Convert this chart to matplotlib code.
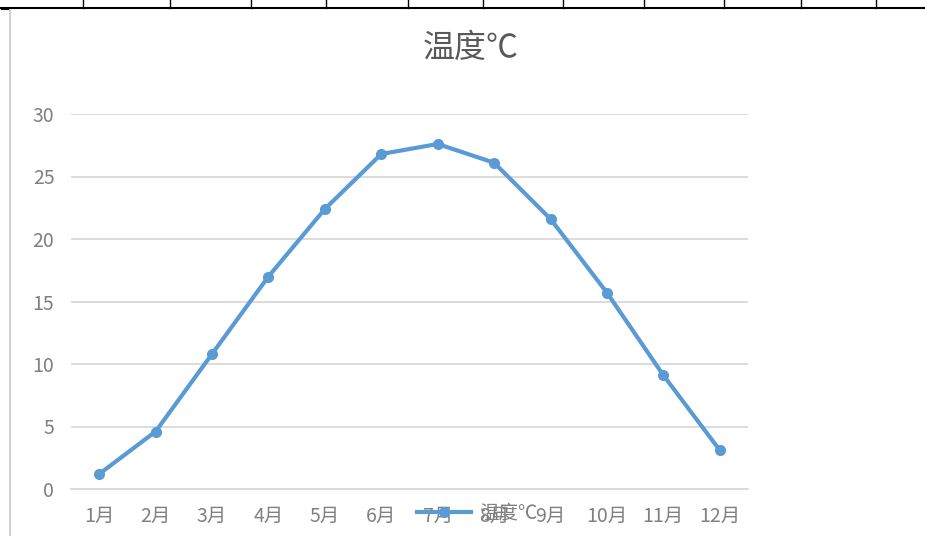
import matplotlib
matplotlib.use("Agg")
import matplotlib.pyplot as plt
from matplotlib.lines import Line2D

plt.rcParams['font.family'] = ['Noto Sans CJK SC', 'DejaVu Sans']

# Monthly mean temperature
months = ['1月', '2月', '3月', '4月', '5月', '6月',
          '7月', '8月', '9月', '10月', '11月', '12月']
temps = [1.2, 4.6, 10.8, 17.0, 22.4, 26.8, 27.6, 26.1, 21.6, 15.7, 9.1, 3.1]
y_ticks = [0, 5, 10, 15, 20, 25, 30]
title = '温度℃'

blue = '#5B9BD5'
grey_text = '#808080'
grid_col = '#D9D9D9'

fig = plt.figure(figsize=(9.25, 5.36), dpi=100)
W, H = 925, 536

# sheet cell borders behind the chart
fig.add_artist(Line2D([0, 1], [1 - 8 / H] * 2, color='black', lw=1.5,
                      transform=fig.transFigure))
for xc in [83, 170, 251, 326, 408, 483, 563, 644, 724, 801, 876]:
    fig.add_artist(Line2D([xc / W] * 2, [1, 1 - 8 / H], color='black', lw=1,
                          transform=fig.transFigure))
fig.add_artist(Line2D([10 / W] * 2, [1 - 10 / H, 0], color='#C8C8C8', lw=1.2,
                      transform=fig.transFigure))
fig.add_artist(Line2D([2 / W, 8 / W], [1 - 9 / H] * 2, color='black', lw=1.5,
                      transform=fig.transFigure))

ax = fig.add_axes([71 / W, 47 / H, (748 - 71) / W, (489 - 114) / H])
x = list(range(len(months)))
line, = ax.plot(x, temps, color=blue, lw=3, marker='o', markersize=8,
                markeredgewidth=0, solid_joinstyle='round')

ax.set_xlim(-0.5, len(months) - 0.5)
ax.set_ylim(0, 30)
ax.set_yticks(y_ticks)
ax.set_xticks(x)
ax.set_xticklabels(months)
ax.grid(axis='y', color=grid_col, lw=1.3)
ax.set_axisbelow(True)
for s in ['top', 'right', 'left']:
    ax.spines[s].set_visible(False)
ax.spines['bottom'].set_color(grid_col)
ax.spines['bottom'].set_linewidth(1.3)
ax.tick_params(axis='both', length=0, colors=grey_text, labelsize=14)
ax.tick_params(axis='y', pad=12)
ax.tick_params(axis='x', pad=12)

fig.text(471 / W, 1 - 48 / H, title, ha='center', va='center',
         fontsize=23, color='#595959')

fig.legend([line], [title], loc='center', frameon=False,
           bbox_to_anchor=(477 / W, 1 - 513 / H), fontsize=14,
           handlelength=2.8, handletextpad=0.4, labelcolor=grey_text)

fig.savefig('out.png', dpi=100)
